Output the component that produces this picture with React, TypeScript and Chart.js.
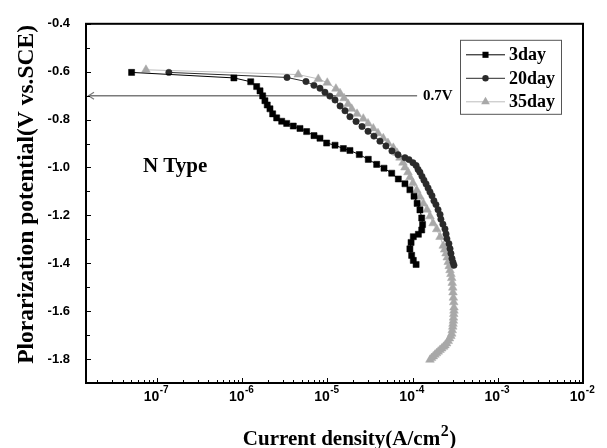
import React, { useEffect, useRef } from 'react';
import { Chart, registerables } from 'chart.js';

Chart.register(...registerables);

const seriesNames = ['3day', '20day', '35day'];

const day3Current = [5.04e-8, 8.0e-7, 1.26e-6, 1.48e-6, 1.62e-6, 1.74e-6, 1.85e-6, 1.97e-6, 2.12e-6, 2.28e-6, 2.54e-6, 2.91e-6, 3.33e-6, 3.98e-6, 4.77e-6, 5.71e-6, 6.97e-6, 8.19e-6, 9.8e-6, 1.23e-5, 1.54e-5, 1.84e-5, 2.37e-5, 3.02e-5, 3.79e-5, 4.62e-5, 5.69e-5, 6.8e-5, 8.14e-5, 9.3e-5, 1.04e-4, 1.13e-4, 1.22e-4, 1.28e-4, 1.31e-4, 1.28e-4, 1.17e-4, 1.02e-4, 9.6e-5, 9.3e-5, 9.75e-5, 1.02e-4, 1.10e-4];
const day3Potential = [-0.603, -0.626, -0.642, -0.662, -0.680, -0.701, -0.721, -0.739, -0.755, -0.776, -0.793, -0.807, -0.816, -0.827, -0.837, -0.850, -0.867, -0.878, -0.898, -0.907, -0.921, -0.929, -0.946, -0.966, -0.987, -1.003, -1.024, -1.048, -1.068, -1.093, -1.120, -1.150, -1.177, -1.211, -1.238, -1.261, -1.279, -1.289, -1.313, -1.340, -1.367, -1.388, -1.405];

const day20Current = [1.38e-7, 3.36e-6, 5.61e-6, 6.96e-6, 8.19e-6, 9.37e-6, 1.07e-5, 1.23e-5, 1.41e-5, 1.61e-5, 1.84e-5, 2.17e-5, 2.55e-5, 3.0e-5, 3.52e-5, 4.14e-5, 4.87e-5, 5.73e-5, 6.74e-5, 8.14e-5, 9.07e-5, 1.01e-4, 1.10e-4, 1.16e-4, 1.22e-4, 1.29e-4, 1.36e-4, 1.44e-4, 1.52e-4, 1.60e-4, 1.69e-4, 1.78e-4, 1.88e-4, 1.99e-4, 2.10e-4, 2.15e-4, 2.27e-4, 2.40e-4, 2.47e-4, 2.53e-4, 2.67e-4, 2.75e-4, 2.82e-4, 2.90e-4, 2.98e-4, 3.06e-4];
const day20Potential = [-0.603, -0.624, -0.641, -0.657, -0.669, -0.686, -0.702, -0.718, -0.743, -0.763, -0.788, -0.808, -0.829, -0.849, -0.869, -0.890, -0.910, -0.931, -0.947, -0.959, -0.967, -0.980, -0.992, -1.008, -1.020, -1.037, -1.053, -1.069, -1.086, -1.102, -1.118, -1.139, -1.155, -1.176, -1.196, -1.216, -1.237, -1.257, -1.278, -1.298, -1.318, -1.339, -1.359, -1.380, -1.396, -1.408];

const day35Current = [7.43e-8, 4.55e-6, 7.82e-6, 9.97e-6, 1.26e-5, 1.41e-5, 1.57e-5, 1.75e-5, 1.93e-5, 2.23e-5, 2.64e-5, 3.0e-5, 3.46e-5, 3.93e-5, 4.53e-5, 5.14e-5, 5.94e-5, 6.56e-5, 7.11e-5, 7.72e-5, 8.14e-5, 8.83e-5, 9.32e-5, 1.01e-4, 1.12e-4, 1.22e-4, 1.34e-4, 1.48e-4, 1.60e-4, 1.74e-4, 1.92e-4, 2.10e-4, 2.29e-4, 2.38e-4, 2.47e-4, 2.55e-4, 2.62e-4, 2.69e-4, 2.75e-4, 2.82e-4, 2.88e-4, 2.92e-4, 2.96e-4, 2.98e-4, 3.01e-4, 3.04e-4, 3.06e-4, 3.06e-4, 3.04e-4, 3.02e-4, 3.01e-4, 2.98e-4, 2.96e-4, 2.92e-4, 2.88e-4, 2.81e-4, 2.71e-4, 2.62e-4, 2.51e-4, 2.40e-4, 2.31e-4, 2.20e-4, 2.10e-4, 2.00e-4, 1.91e-4, 1.83e-4, 1.75e-4, 1.67e-4, 1.60e-4];
const day35Potential = [-0.592, -0.612, -0.630, -0.646, -0.671, -0.690, -0.711, -0.735, -0.755, -0.776, -0.796, -0.816, -0.837, -0.857, -0.878, -0.898, -0.918, -0.939, -0.959, -0.980, -1.000, -1.020, -1.041, -1.065, -1.095, -1.122, -1.150, -1.176, -1.204, -1.233, -1.258, -1.290, -1.327, -1.343, -1.359, -1.376, -1.395, -1.412, -1.429, -1.445, -1.462, -1.482, -1.502, -1.522, -1.544, -1.563, -1.585, -1.598, -1.612, -1.627, -1.640, -1.653, -1.665, -1.680, -1.694, -1.704, -1.714, -1.725, -1.735, -1.743, -1.749, -1.756, -1.762, -1.769, -1.776, -1.782, -1.789, -1.796, -1.803];

const xTickValues = [1e-7, 1e-6, 1e-5, 1e-4, 1e-3, 1e-2];
const xTickBase = '10';
const xTickExponents = ['-7', '-6', '-5', '-4', '-3', '-2'];
const yTickValues = [-0.4, -0.6, -0.8, -1.0, -1.2, -1.4, -1.6, -1.8];
const yTickLabels = ['-0.4', '-0.6', '-0.8', '-1.0', '-1.2', '-1.4', '-1.6', '-1.8'];

const xMin = 1.47e-8;
const xMax = 1e-2;
const yMin = -1.9;
const yMax = -0.4;

const markerPotential = -0.7;
const markerEndCurrent = 1.13e-4;
const markerLabel = '0.7V';
const noteText = 'N Type';
const noteCurrent = 6.85e-8;
const notePotential = -1.02;

const xTitleMain = 'Current density(A/cm';
const xTitleSup = '2';
const xTitleEnd = ')';
const yTitle = 'Plorarization potential(V vs.SCE)';

const SERIF = '"Liberation Serif", "Times New Roman", Times, serif';
const SANS = '"Liberation Sans", Arial, Helvetica, sans-serif';

const styles = [
  { color: '#000000', line: '#000000', shape: 'rect', radius: 4.3 },
  { color: '#2a2a2a', line: '#2a2a2a', shape: 'circle', radius: 3.2 },
  { color: '#a8a8a8', line: '#bdbdbd', shape: 'triangle', radius: 5 },
];

const zip = (xs: number[], ys: number[]) => xs.map((x, i) => ({ x, y: ys[i] }));

function drawMarker(ctx: CanvasRenderingContext2D, shape: string, x: number, y: number, r: number) {
  ctx.beginPath();
  if (shape === 'rect') {
    const s = r * Math.SQRT1_2;
    ctx.rect(x - s, y - s, 2 * s, 2 * s);
  } else if (shape === 'circle') {
    ctx.arc(x, y, r, 0, Math.PI * 2);
  } else {
    const h = r * 1.5;
    const w = r * Math.sqrt(3) / 2;
    ctx.moveTo(x, y - r);
    ctx.lineTo(x + w, y - r + h);
    ctx.lineTo(x - w, y - r + h);
    ctx.closePath();
  }
  ctx.fill();
}

const decorPlugin = {
  id: 'decor',
  beforeDatasetsDraw(chart: any) {
    const { ctx, chartArea: a, scales } = chart;
    const y = scales.y.getPixelForValue(markerPotential);
    const xEnd = scales.x.getPixelForValue(markerEndCurrent);
    ctx.save();
    ctx.strokeStyle = '#7a7a7a';
    ctx.lineWidth = 1.5;
    ctx.beginPath();
    ctx.moveTo(a.left + 2, y);
    ctx.lineTo(xEnd, y);
    ctx.stroke();
    ctx.lineWidth = 1.2;
    ctx.beginPath();
    ctx.moveTo(a.left + 8, y - 3.5);
    ctx.lineTo(a.left + 2.5, y);
    ctx.lineTo(a.left + 8, y + 3.5);
    ctx.stroke();
    ctx.fillStyle = '#000';
    ctx.font = `bold 15px ${SERIF}`;
    ctx.textAlign = 'left';
    ctx.textBaseline = 'middle';
    ctx.fillText(markerLabel, xEnd + 6, y);
    ctx.font = `bold 21px ${SERIF}`;
    ctx.textBaseline = 'alphabetic';
    ctx.fillText(noteText, scales.x.getPixelForValue(noteCurrent), scales.y.getPixelForValue(notePotential));
    ctx.restore();
  },
  afterDraw(chart: any) {
    const { ctx, chartArea: a, scales } = chart;
    const xs = scales.x;
    const ys = scales.y;
    ctx.save();
    // inward ticks
    ctx.strokeStyle = '#000';
    ctx.lineWidth = 1;
    ctx.beginPath();
    xTickValues.forEach((v) => {
      const px = Math.round(xs.getPixelForValue(v)) + 0.5;
      ctx.moveTo(px, a.bottom);
      ctx.lineTo(px, a.bottom - 5);
    });
    const e0 = Math.floor(Math.log10(xMin));
    const e1 = Math.ceil(Math.log10(xMax));
    for (let e = e0; e < e1; e++) {
      for (let k = 2; k <= 9; k++) {
        const v = k * Math.pow(10, e);
        if (v <= xMin || v >= xMax) continue;
        const px = Math.round(xs.getPixelForValue(v)) + 0.5;
        ctx.moveTo(px, a.bottom);
        ctx.lineTo(px, a.bottom - 3);
      }
    }
    yTickValues.forEach((v, i) => {
      const py = Math.round(ys.getPixelForValue(v)) + 0.5;
      ctx.moveTo(a.left, py);
      ctx.lineTo(a.left + 5, py);
      if (i < yTickValues.length - 1) {
        const m = (v + yTickValues[i + 1]) / 2;
        const pm = Math.round(ys.getPixelForValue(m)) + 0.5;
        ctx.moveTo(a.left, pm);
        ctx.lineTo(a.left + 4, pm);
      }
    });
    ctx.stroke();
    // frame
    ctx.lineWidth = 2;
    ctx.strokeRect(a.left, a.top, a.right - a.left, a.bottom - a.top);

    // x tick labels with superscript exponents
    ctx.fillStyle = '#000';
    ctx.textBaseline = 'alphabetic';
    ctx.textAlign = 'left';
    xTickValues.forEach((v, i) => {
      const px = xs.getPixelForValue(v);
      ctx.font = `bold 14px ${SANS}`;
      const wb = ctx.measureText(xTickBase).width;
      ctx.font = `bold 10px ${SANS}`;
      const we = ctx.measureText(xTickExponents[i]).width;
      const x0 = px - (wb + we) / 2 - 1;
      ctx.font = `bold 14px ${SANS}`;
      ctx.fillText(xTickBase, x0, a.bottom + 17.5);
      ctx.font = `bold 10px ${SANS}`;
      ctx.fillText(xTickExponents[i], x0 + wb + 0.5, a.bottom + 10);
    });

    // x title
    ctx.font = `bold 21px ${SERIF}`;
    const wMain = ctx.measureText(xTitleMain).width;
    ctx.font = `bold 16px ${SERIF}`;
    const wSup = ctx.measureText(xTitleSup).width;
    ctx.font = `bold 21px ${SERIF}`;
    const wEnd = ctx.measureText(xTitleEnd).width;
    const total = wMain + wSup + wEnd + 1;
    const tx = (a.left + a.right) / 2 + 15 - total / 2;
    const tyBase = 445;
    ctx.fillText(xTitleMain, tx, tyBase);
    ctx.font = `bold 16px ${SERIF}`;
    ctx.fillText(xTitleSup, tx + wMain + 0.5, tyBase - 9);
    ctx.font = `bold 21px ${SERIF}`;
    ctx.fillText(xTitleEnd, tx + wMain + wSup + 1, tyBase);

    // y title
    ctx.save();
    ctx.translate(27, (a.top + a.bottom) / 2 - 9);
    ctx.rotate(-Math.PI / 2);
    ctx.font = `bold 23.5px ${SERIF}`;
    ctx.textAlign = 'center';
    ctx.textBaseline = 'middle';
    ctx.fillText(yTitle, 0, 0);
    ctx.restore();

    // legend
    const bx = a.right - 123;
    const by = a.top + 16;
    const bw = 101;
    const bh = 74;
    ctx.fillStyle = '#fff';
    ctx.fillRect(bx, by, bw, bh);
    ctx.strokeStyle = '#555';
    ctx.lineWidth = 1;
    ctx.strokeRect(bx + 0.5, by + 0.5, bw, bh);
    ctx.font = `bold 18px ${SERIF}`;
    ctx.textAlign = 'left';
    ctx.textBaseline = 'middle';
    chart.data.datasets.forEach((ds: any, i: number) => {
      const st = styles[i];
      const ry = by + 15 + i * 23.5;
      ctx.strokeStyle = st.line;
      ctx.lineWidth = 1;
      ctx.beginPath();
      ctx.moveTo(bx + 6, ry);
      ctx.lineTo(bx + 45, ry);
      ctx.stroke();
      ctx.fillStyle = st.color;
      drawMarker(ctx, st.shape, bx + 25.5, ry, st.radius);
      ctx.fillStyle = '#000';
      ctx.fillText(ds.label, bx + 49, ry + 1);
    });
    ctx.restore();
  },
};

export default function App() {
  const ref = useRef<HTMLCanvasElement>(null);
  useEffect(() => {
    const canvas = ref.current;
    if (!canvas) return;
    const seriesData = [
      zip(day3Current, day3Potential),
      zip(day20Current, day20Potential),
      zip(day35Current, day35Potential),
    ];
    const chart = new Chart(canvas, {
      type: 'scatter',
      data: {
        datasets: seriesNames.map((name, i) => ({
          label: name,
          data: seriesData[i],
          showLine: true,
          borderColor: styles[i].line,
          borderWidth: 1,
          pointStyle: styles[i].shape as any,
          pointRadius: styles[i].radius,
          pointBackgroundColor: styles[i].color,
          pointBorderColor: styles[i].color,
          pointBorderWidth: 0.5,
        })),
      },
      options: {
        responsive: false,
        animation: false,
        devicePixelRatio: 1,
        layout: { padding: { top: 13, right: 24, left: 0, bottom: 0 } },
        plugins: { legend: { display: false }, tooltip: { enabled: false } },
        scales: {
          x: {
            type: 'logarithmic',
            position: 'bottom',
            min: xMin,
            max: xMax,
            afterFit: (s: any) => { s.height = 65; },
            afterBuildTicks: (s: any) => { s.ticks = xTickValues.map((v) => ({ value: v, major: true })); },
            grid: { display: false, drawTicks: false },
            border: { display: false },
            ticks: { display: false, autoSkip: false },
            title: { display: false },
          },
          y: {
            type: 'linear',
            min: yMin,
            max: yMax,
            afterFit: (s: any) => { s.width = 86; },
            afterBuildTicks: (s: any) => { s.ticks = yTickValues.map((v) => ({ value: v })); },
            grid: { display: false, drawTicks: false },
            border: { display: false },
            ticks: {
              autoSkip: false,
              padding: 16,
              color: '#000',
              font: { family: SANS, size: 13, weight: 'bold' },
              callback: (_v: any, i: number) => yTickLabels[i],
            },
            title: { display: false },
          },
        },
      },
      plugins: [decorPlugin],
    } as any);
    return () => chart.destroy();
  }, []);
  return (
    <div style={{ position: 'absolute', left: 0, top: 0, width: 607, height: 448, background: '#fff' }}>
      <canvas ref={ref} width={607} height={448} style={{ display: 'block', width: 607, height: 448 }} />
    </div>
  );
}
